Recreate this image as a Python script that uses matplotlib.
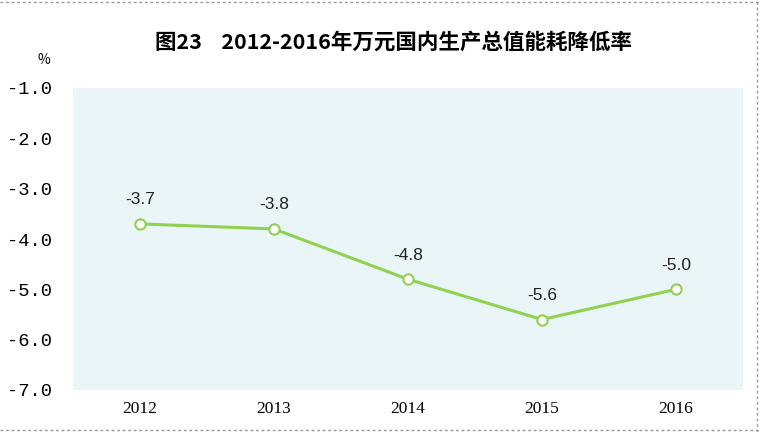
import matplotlib
matplotlib.use("Agg")
import matplotlib.pyplot as plt
from matplotlib.lines import Line2D

plt.rcParams['font.family'] = ['Noto Sans CJK SC', 'DejaVu Sans']

years = ['2012', '2013', '2014', '2015', '2016']
values = [-3.7, -3.8, -4.8, -5.6, -5.0]
yticks = [-1.0, -2.0, -3.0, -4.0, -5.0, -6.0, -7.0]
title = '图23    2012-2016年万元国内生产总值能耗降低率'

fig = plt.figure(figsize=(7.6, 4.32), dpi=100)
ax = fig.add_axes([73/760, 1 - 390/432, 670/760, 302/432])
ax.set_facecolor('#eaf5f8')
ax.set_xlim(-0.5, 4.5)
ax.set_ylim(-7.0, -1.0)
x = list(range(len(years)))
ax.plot(x, values, color='#92d050', lw=2.2, zorder=3)
ax.scatter(x, values, s=55, facecolor='white', edgecolor='#92d050', linewidth=1.5, zorder=4)
for xi, v in zip(x, values):
    ax.annotate(f'{v:.1f}', (xi, v), xytext=(0, 12), textcoords='offset points',
                ha='center', va='bottom', fontsize=12.5, family='Liberation Sans', color='#222222')
ax.set_xticks(x)
ax.set_xticklabels(years, family='Liberation Serif', fontsize=12.5)
ax.set_yticks(yticks)
ax.set_yticklabels([f'{t:.1f}' for t in yticks], family='Liberation Mono', fontsize=13.5)
for s in ax.spines.values():
    s.set_visible(False)
ax.tick_params(length=0, pad=8)
ax.tick_params(axis='y', pad=15)
fig.text(0.058, 1 - 60/432, '%', ha='center', va='center', fontsize=10)
fig.text(0.518, 1 - 42/432, title, ha='center', va='center', fontsize=15.5, fontweight='bold')
# dotted frame
fig.add_artist(Line2D([0, 1], [1 - 2/432, 1 - 2/432], transform=fig.transFigure, color='#999999', lw=1, ls=(0, (2, 2))))
fig.add_artist(Line2D([0, 1], [1 - 430/432, 1 - 430/432], transform=fig.transFigure, color='#999999', lw=1, ls=(0, (2, 2))))
fig.add_artist(Line2D([757/760, 757/760], [0, 1], transform=fig.transFigure, color='#999999', lw=1, ls=(0, (2, 2))))
fig.savefig('out.png', dpi=100)
